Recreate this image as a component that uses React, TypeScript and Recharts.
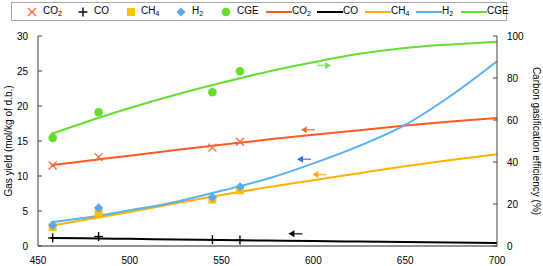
import React from 'react'
import { ComposedChart, Line, Scatter, XAxis, YAxis, Legend } from 'recharts'

// ─────────────────────────────────────────
// Gas yield vs. temperature
//   measured points (markers) + fitted trend lines
//   CO2 / CO / CH4 / H2 on the left axis (mol/kg d.b.)
//   CGE on the right axis (%)
// ─────────────────────────────────────────

// measured runs (temperature, °C)
const runTemp = [458, 483, 545, 560]
const co2Pts = [11.5, 12.7, 14.05, 14.9]
const coPts = [1.15, 1.35, 0.9, 0.85]
const ch4Pts = [2.7, 4.7, 6.65, 7.95]
const h2Pts = [2.95, 5.45, 6.95, 8.45]
const cgePts = [51.5, 63.7, 73.2, 83.2]

// trend lines
const fitTemp = [457, 475, 500, 525, 550, 575, 600, 625, 650, 675, 700]
const co2Fit = [11.55, 12.12, 12.9, 13.7, 14.45, 15.2, 15.9, 16.55, 17.2, 17.8, 18.3]
const coFit = [1.15, 1.1, 1.02, 0.94, 0.86, 0.78, 0.7, 0.63, 0.56, 0.49, 0.42]
const ch4Fit = [2.9, 3.7, 4.85, 6.1, 7.3, 8.4, 9.4, 10.4, 11.4, 12.3, 13.1]
const h2Fit = [3.4, 4.0, 5.1, 6.3, 7.9, 9.6, 11.8, 14.3, 17.3, 21.5, 26.4]
const cgeFit = [53.3, 58.7, 65.7, 72.0, 77.7, 83.0, 87.5, 91.5, 94.3, 96.0, 97.3]

// small arrows telling which axis a curve belongs to (CGE, CO2, H2, CH4, CO)
const arrowTemp = [605.8, 597, 594.9, 603.3, 590.2]
const arrowYield = [25.8, 16.6, 12.4, 10.2, 1.75]
const arrowDir = [1, -1, -1, -1, -1]

const xTicks = [450, 500, 550, 600, 650, 700]
const yieldTicks = [0, 5, 10, 15, 20, 25, 30]
const cgeTicks = [0, 20, 40, 60, 80, 100]

const FONT = '"Liberation Sans", Arial, sans-serif'
const AXIS = '#404040'

const C = {
  co2Line: '#ff5a1f',
  co2Mark: '#f26a3a',
  co: '#000000',
  ch4Line: '#ffb000',
  ch4Mark: '#ffc000',
  h2Line: '#5ab0f5',
  h2Mark: '#5aa8f2',
  cgeLine: '#66dd33',
  cgeMark: '#66dd2a',
}
const arrowColors = ['#7ddc55', '#ff6a33', '#3a6fe0', '#ffaa11', '#000000']

const rows = (xs: number[], ys: number[]) => xs.map((x, i) => ({ x, y: ys[i] }))

// ── marker shapes ──
function XMark({ cx, cy }: any) {
  const s = 4
  return (
    <g stroke={C.co2Mark} strokeWidth={1.3}>
      <line x1={cx - s} y1={cy - s} x2={cx + s} y2={cy + s} />
      <line x1={cx - s} y1={cy + s} x2={cx + s} y2={cy - s} />
    </g>
  )
}
function PlusMark({ cx, cy }: any) {
  const s = 4.5
  return (
    <g stroke={C.co} strokeWidth={1.4}>
      <line x1={cx - s} y1={cy} x2={cx + s} y2={cy} />
      <line x1={cx} y1={cy - s} x2={cx} y2={cy + s} />
    </g>
  )
}
function SquareMark({ cx, cy }: any) {
  return <rect x={cx - 4} y={cy - 4} width={8} height={8} fill={C.ch4Mark} />
}
function DiamondMark({ cx, cy }: any) {
  const s = 4.6
  return <polygon points={`${cx},${cy - s} ${cx + s},${cy} ${cx},${cy + s} ${cx - s},${cy}`} fill={C.h2Mark} />
}
function CircleMark({ cx, cy }: any) {
  return <circle cx={cx} cy={cy} r={4.3} fill={C.cgeMark} />
}

const arrowShape = (color: string, dir: number) => ({ cx, cy }: any) => {
  const tip = cx + dir * 7
  const base = cx + dir * 1
  return (
    <g>
      <line x1={cx - dir * 7} y1={cy} x2={base} y2={cy} stroke={color} strokeWidth={1.6} opacity={0.75} />
      <polygon points={`${tip},${cy} ${base},${cy - 3.5} ${base},${cy + 3.5}`} fill={color} />
    </g>
  )
}

// ── legend ──
const legendEntries = [
  { kind: 'x', main: 'CO', sub: '2' },
  { kind: 'plus', main: 'CO', sub: '' },
  { kind: 'square', main: 'CH', sub: '4' },
  { kind: 'diamond', main: 'H', sub: '2' },
  { kind: 'circle', main: 'CGE', sub: '' },
  { kind: 'line', color: C.co2Line, main: 'CO', sub: '2' },
  { kind: 'line', color: C.co, main: 'CO', sub: '' },
  { kind: 'line', color: C.ch4Line, main: 'CH', sub: '4' },
  { kind: 'line', color: C.h2Line, main: 'H', sub: '2' },
  { kind: 'line', color: C.cgeLine, main: 'CGE', sub: '' },
]
// icon left edge / text left edge in px
const legendSlots = [
  [27, 43], [78, 94], [126, 141], [176, 192], [221, 237],
  [266, 292], [317, 343], [365, 391], [416, 442], [461, 487],
]

function LegendIcon({ e }: any) {
  let mark: React.ReactNode = null
  if (e.kind === 'x') mark = <XMark cx={5} cy={6} />
  if (e.kind === 'plus') mark = <PlusMark cx={5} cy={6} />
  if (e.kind === 'square') mark = <SquareMark cx={5} cy={6} />
  if (e.kind === 'diamond') mark = <DiamondMark cx={5} cy={6} />
  if (e.kind === 'circle') mark = <CircleMark cx={5} cy={6} />
  if (e.kind === 'line') {
    return (
      <svg width={26} height={12} style={{ display: 'block' }}>
        <line x1={0} y1={6} x2={26} y2={6} stroke={e.color} strokeWidth={2} />
      </svg>
    )
  }
  return (
    <svg width={10} height={12} style={{ display: 'block', overflow: 'visible' }}>
      {mark}
    </svg>
  )
}

function ChartLegend() {
  return (
    <div style={{ position: 'relative', width: 543, height: 24, fontFamily: FONT, fontSize: 10, color: '#000' }}>
      <div
        style={{
          position: 'absolute', left: 11, top: 2, width: 496, height: 19,
          border: '1px solid #a6a6a6', boxSizing: 'border-box', background: '#fff',
        }}
      />
      {legendEntries.map((e, i) => (
        <React.Fragment key={i}>
          <div style={{ position: 'absolute', left: legendSlots[i][0], top: 6 }}>
            <LegendIcon e={e} />
          </div>
          <div style={{ position: 'absolute', left: legendSlots[i][1], top: 5, lineHeight: '12px', whiteSpace: 'nowrap' }}>
            {e.main}
            {e.sub && <span style={{ fontSize: 7, position: 'relative', top: 2 }}>{e.sub}</span>}
          </div>
        </React.Fragment>
      ))}
    </div>
  )
}

const tickStyle = { fill: '#000', fontSize: 10, fontFamily: FONT }
const titleStyle = { textAnchor: 'middle' as const, fontSize: 10, fill: '#000', fontFamily: FONT }

export default function App() {
  return (
    <div style={{ position: 'absolute', left: 0, top: 0, width: 543, height: 266, background: '#fff' }}>
      <ComposedChart
        width={543}
        height={266}
        margin={{ top: 36, right: 0, bottom: 0, left: 0 }}
        style={{ fontFamily: FONT }}
      >
        <XAxis
          dataKey="x"
          type="number"
          domain={[450, 700]}
          ticks={xTicks}
          interval={0}
          height={20}
          tickSize={0}
          tickMargin={11}
          tickLine={false}
          axisLine={{ stroke: '#262626' }}
          tick={tickStyle}
          allowDataOverflow
        />
        <YAxis
          yAxisId="left"
          orientation="left"
          type="number"
          domain={[0, 30]}
          ticks={yieldTicks}
          interval={0}
          width={38}
          tickSize={-4}
          tickMargin={14}
          axisLine={{ stroke: AXIS }}
          tickLine={{ stroke: AXIS }}
          tick={tickStyle}
          label={{ value: 'Gas yield (mol/kg of d.b.)', angle: -90, position: 'insideLeft', offset: 8, style: titleStyle }}
        />
        <YAxis
          yAxisId="right"
          orientation="right"
          type="number"
          domain={[0, 100]}
          ticks={cgeTicks}
          interval={0}
          width={46}
          tickSize={-4}
          tickMargin={14}
          axisLine={{ stroke: AXIS }}
          tickLine={{ stroke: AXIS }}
          tick={{ ...tickStyle, textAnchor: 'start' }}
          label={{ value: 'Carbon gasification efficiency (%)', angle: 90, position: 'insideRight', offset: 6, style: titleStyle }}
        />

        <Legend
          layout="vertical"
          align="center"
          verticalAlign="middle"
          wrapperStyle={{ top: 0, left: 0, width: 543, height: 24 }}
          content={() => <ChartLegend />}
        />

        {/* fitted trend lines */}
        <Line yAxisId="left" data={rows(fitTemp, co2Fit)} dataKey="y" type="monotone" stroke={C.co2Line} strokeWidth={2} dot={false} isAnimationActive={false} />
        <Line yAxisId="left" data={rows(fitTemp, coFit)} dataKey="y" type="monotone" stroke={C.co} strokeWidth={2} dot={false} isAnimationActive={false} />
        <Line yAxisId="left" data={rows(fitTemp, ch4Fit)} dataKey="y" type="monotone" stroke={C.ch4Line} strokeWidth={2} dot={false} isAnimationActive={false} />
        <Line yAxisId="left" data={rows(fitTemp, h2Fit)} dataKey="y" type="monotone" stroke={C.h2Line} strokeWidth={2} dot={false} isAnimationActive={false} />
        <Line yAxisId="right" data={rows(fitTemp, cgeFit)} dataKey="y" type="monotone" stroke={C.cgeLine} strokeWidth={2} dot={false} isAnimationActive={false} />

        {/* measured points */}
        <Scatter yAxisId="left" data={rows(runTemp, co2Pts)} dataKey="y" shape={XMark} isAnimationActive={false} />
        <Scatter yAxisId="left" data={rows(runTemp, coPts)} dataKey="y" shape={PlusMark} isAnimationActive={false} />
        <Scatter yAxisId="left" data={rows(runTemp, ch4Pts)} dataKey="y" shape={SquareMark} isAnimationActive={false} />
        <Scatter yAxisId="left" data={rows(runTemp, h2Pts)} dataKey="y" shape={DiamondMark} isAnimationActive={false} />
        <Scatter yAxisId="right" data={rows(runTemp, cgePts)} dataKey="y" shape={CircleMark} isAnimationActive={false} />

        {/* axis arrows */}
        {arrowTemp.map((t, i) => (
          <Scatter
            key={`arrow-${i}`}
            yAxisId="left"
            data={[{ x: t, y: arrowYield[i] }]}
            dataKey="y"
            shape={arrowShape(arrowColors[i], arrowDir[i])}
            isAnimationActive={false}
          />
        ))}
      </ComposedChart>
    </div>
  )
}
